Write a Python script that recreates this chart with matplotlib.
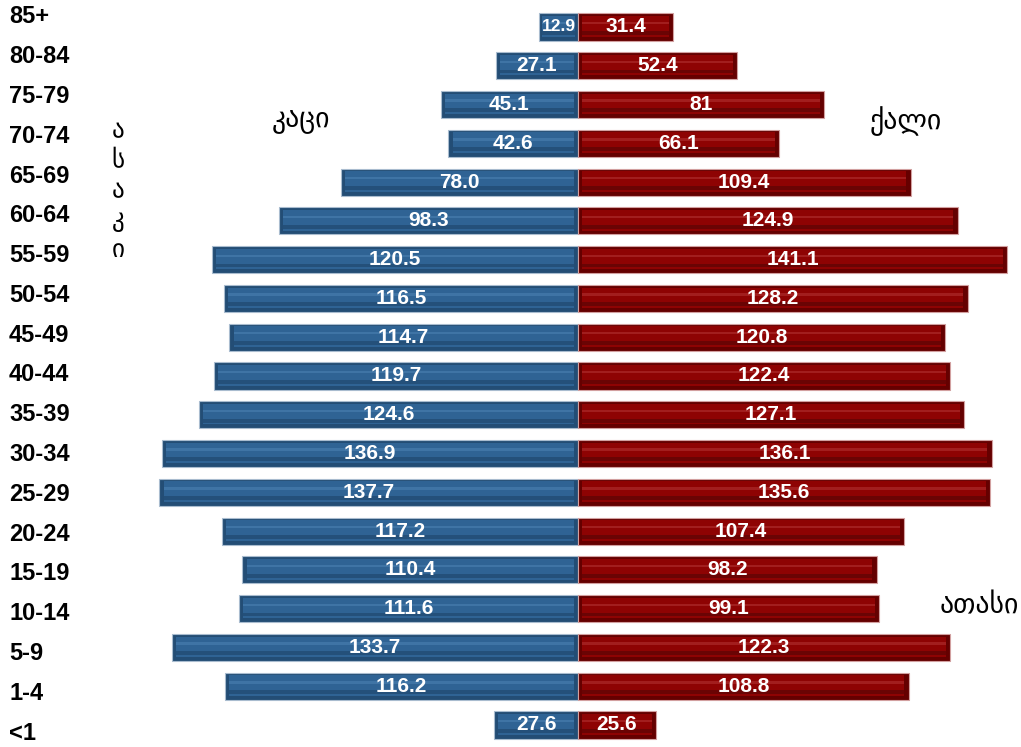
import numpy as np
import matplotlib
matplotlib.use("Agg")
import matplotlib.pyplot as plt

# Datos: grupos de edad (de abajo hacia arriba) y población en miles
grupos = ["<1", "1-4", "5-9", "10-14", "15-19", "20-24", "25-29", "30-34", "35-39",
          "40-44", "45-49", "50-54", "55-59", "60-64", "65-69", "70-74", "75-79",
          "80-84", "85+"]
hombres_txt = ["27.6", "116.2", "133.7", "111.6", "110.4", "117.2", "137.7", "136.9", "124.6",
               "119.7", "114.7", "116.5", "120.5", "98.3", "78.0", "42.6", "45.1", "27.1", "12.9"]
mujeres_txt = ["25.6", "108.8", "122.3", "99.1", "98.2", "107.4", "135.6", "136.1", "127.1",
               "122.4", "120.8", "128.2", "141.1", "124.9", "109.4", "66.1", "81", "52.4", "31.4"]

hombres = np.array([float(s) for s in hombres_txt])
mujeres = np.array([float(s) for s in mujeres_txt])
y = np.arange(len(grupos))

W, H = 1021, 747
fig = plt.figure(figsize=(W / 100, H / 100), dpi=100, facecolor="white")

# Ejes de las barras, ocupan toda la figura (centro en x=578 px)
escala = 3.04
ax = fig.add_axes([0, 0, 1, 1])
ax.set_xlim(-578 / escala, (W - 578) / escala)
ax.set_ylim((725 - H) / 38.78, 725 / 38.78)
ax.axis("off")

alto = 0.70
# colores: borde claro, bisel, principal, franja inferior, brillo
azul = ("#a9bccf", "#234d75", "#2f6394", "#24507a", "#477cad")
rojo = ("#d2a0a0", "#650000", "#8e0303", "#6a0404", "#ab2a2a")


def barras(valores, signo, col):
    # base (bisel) con borde claro
    ax.barh(y, signo * valores, height=alto, color=col[1], edgecolor=col[0], linewidth=0.8, zorder=2)
    # cuerpo principal, recortado en los dos extremos
    b = np.minimum(1.4, valores * 0.08)
    inicio = signo * b
    largo = signo * (valores - 2 * b)
    ax.barh(y + 0.015, largo, left=inicio, height=alto - 0.17, color=col[2], linewidth=0, zorder=3)
    # franja oscura inferior
    ax.barh(y - 0.15, largo, left=inicio, height=0.10, color=col[3], linewidth=0, zorder=4)
    # franja de brillo
    ax.barh(y + 0.10, largo, left=inicio, height=0.06, color=col[4], linewidth=0, alpha=0.7, zorder=4)


barras(hombres, -1, azul)
barras(mujeres, 1, rojo)

# Etiquetas de valores
for i in range(len(grupos)):
    tam = 12.5 if hombres[i] < 20 else 15
    ax.text(-hombres[i] / 2, y[i], hombres_txt[i], ha="center", va="center", color="white",
            fontsize=tam, fontweight="bold", family="Liberation Sans", zorder=5)
    ax.text(mujeres[i] / 2, y[i], mujeres_txt[i], ha="center", va="center", color="white",
            fontsize=15, fontweight="bold", family="Liberation Sans", zorder=5)

# Ejes para los nombres de los grupos (espaciado algo distinto al de las barras)
ax2 = fig.add_axes([0, 0, 1, 1], facecolor="none")
ax2.set_xlim(0, W)
ax2.set_ylim((733 - H) / 39.78, 733 / 39.78)
ax2.axis("off")
for i, g in enumerate(grupos):
    ax2.text(9, y[i], g, ha="left", va="center", fontsize=17, fontweight="bold",
             family="Liberation Sans", color="black")


def texto(xp, yp, s, tam=20, **kw):
    fig.text(xp / W, 1 - yp / H, s, family="DejaVu Sans", fontsize=tam, color="black", **kw)


texto(301, 120, "კაცი", ha="center", va="center")
texto(906, 121, "ქალი", ha="center", va="center")
texto(979, 605, "ათასი", ha="center", va="center")
for k, letra in enumerate("ასაკი"):
    texto(118, 130 + k * 30, letra, tam=18, ha="center", va="center")

fig.savefig("out.png", dpi=100, facecolor="white")
